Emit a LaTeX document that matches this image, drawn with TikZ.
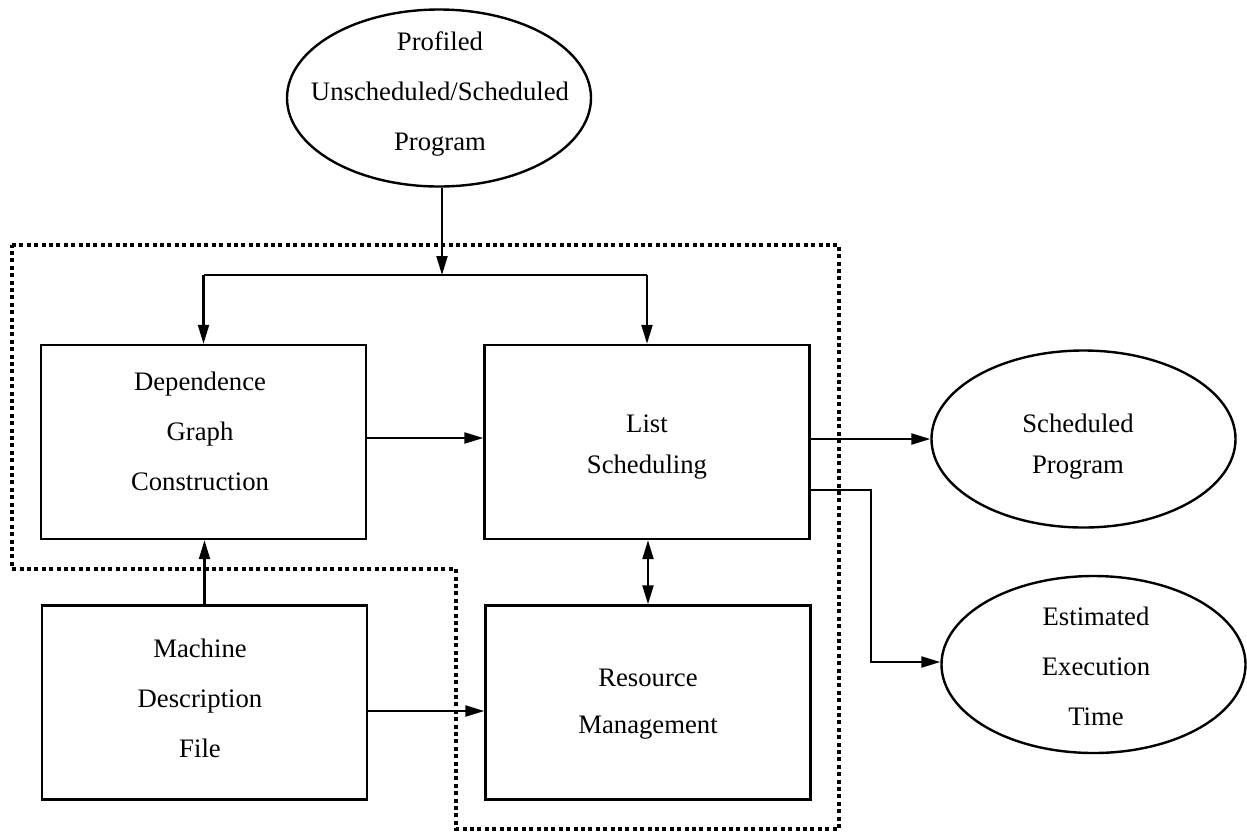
\documentclass[tikz,border=0pt]{standalone}
\usepackage{fontspec}
\setmainfont{Liberation Serif}
\usetikzlibrary{arrows.meta,calc,shapes.geometric}
\begin{document}
\begin{tikzpicture}[x=0.5pt,y=-0.5pt,
  box/.style={draw, line width=1.2pt, minimum width=162.5pt, minimum height=97pt, inner sep=0pt},
  oval/.style={draw, ellipse, line width=1.2pt, minimum width=152pt, minimum height=88.5pt, inner sep=0pt},
  txt/.style={align=center, inner sep=0pt, font=\fontsize{13.35}{25}\selectfont},
  txtb/.style={align=center, inner sep=0pt, font=\fontsize{13.35}{20.5}\selectfont},
  txtc/.style={align=center, inner sep=0pt, font=\fontsize{13.35}{23.5}\selectfont},
  conn/.style={line width=1.1pt, -{Triangle[length=9.5pt,width=5.5pt]}},
  conn2/.style={line width=1.1pt, {Triangle[length=9.5pt,width=5.5pt]}-{Triangle[length=9.5pt,width=5.5pt]}},
  wire/.style={line width=1.1pt},
  bound/.style={line width=2pt, dash pattern=on 2pt off 1.7pt}]
\useasboundingbox (0,0) rectangle (1247,832);

% processing boxes
\node[box] (dep)  at (203.5,442)   {};
\node[box] (list) at (647,442)     {};
\node[box] (mach) at (204.5,702.5) {};
\node[box] (res)  at (648,702.5)   {};

% input and output ovals
\node[oval] (prog)  at (439,98)      {};
\node[oval] (sched) at (1083.5,439)  {};
\node[oval] (est)   at (1093.5,664.5) {};

% labels
\node[txt]  (prog-t)  at (440,94)     {Profiled\\Unscheduled/Scheduled\\Program};
\node[txt]  (dep-t)   at (200,431)    {Dependence\\Graph\\Construction};
\node[txt]  (mach-t)  at (200,698)    {Machine\\Description\\File};
\node[txtb] (list-t)  at (647,446.6)  {List\\Scheduling};
\node[txtc] (res-t)   at (648,704.6)  {Resource\\Management};
\node[txtb] (sched-t) at (1078,446.3) {Scheduled\\Program};
\node[txt]  (est-t)   at (1096,666)   {Estimated\\Execution\\Time};

% scheduler boundary
\draw[bound] (12,245) -- (839,245) -- (839,829) -- (456,829) -- (456,569) -- (12,569) -- cycle;

% connectors
\coordinate (split) at (442,275);
\draw[conn] (prog.south -| split) -- (split);
\draw[wire] (dep.north |- split) -- (list.north |- split);
\draw[conn] (dep.north |- split) -- (dep.north);
\draw[conn] (list.north |- split) -- (list.north);
\draw[conn] ($(dep.east)+(0,-4)$) -- ($(list.west)+(0,-4)$);
\draw[conn] (mach.north) -- (mach.north |- dep.south);
\draw[conn] ($(mach.east)+(0,8.5)$) -- ($(res.west)+(0,8.5)$);
\draw[conn2] (res.north |- list.south) -- (res.north);
\draw[conn] (list.east |- sched.west) -- (sched.west);
\coordinate (turn) at (871,490);
\draw[conn] (list.east |- turn) -- (turn) |- ($(est.west)+(0,-2.5)$);
\end{tikzpicture}
\end{document}
